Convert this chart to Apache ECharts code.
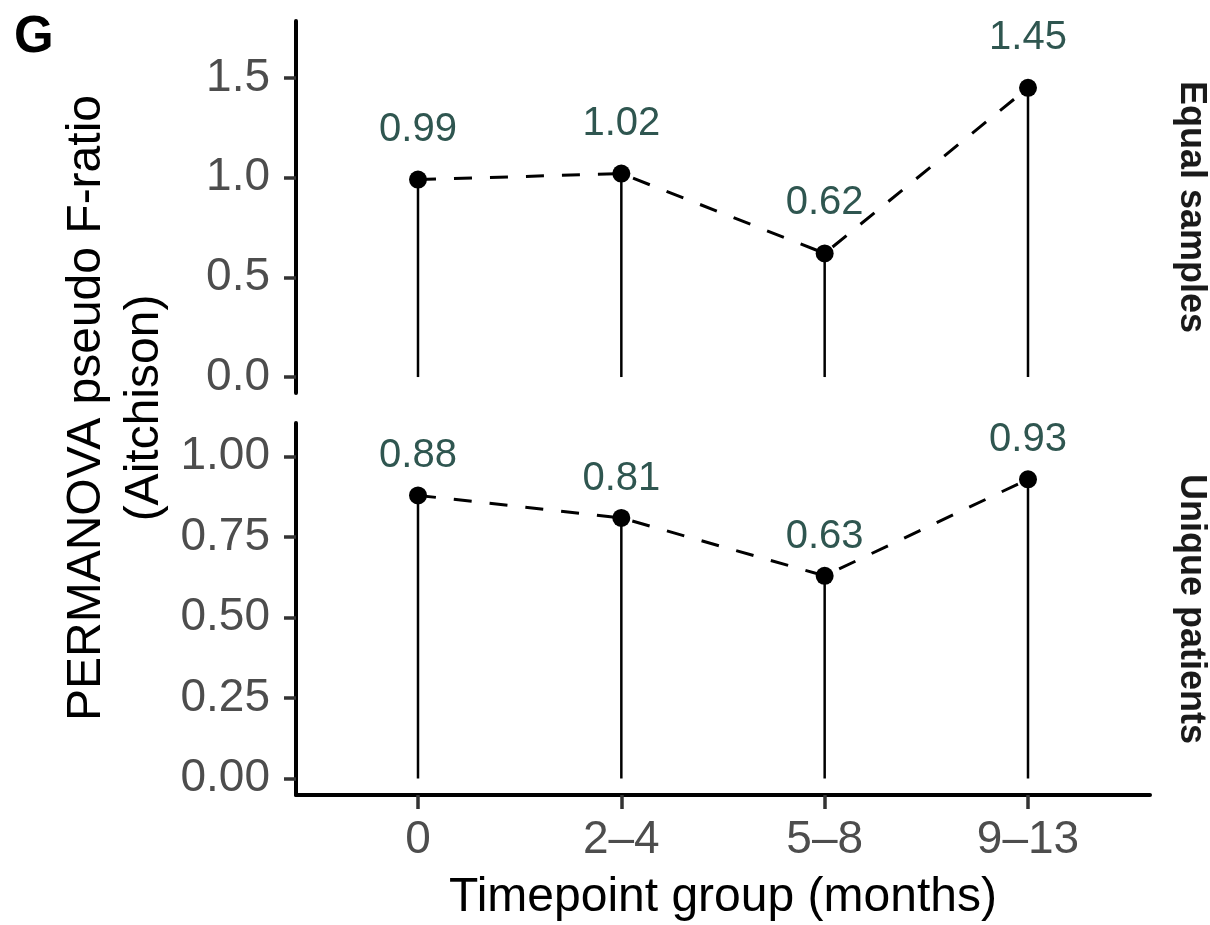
<!DOCTYPE html>
<html>
<head>
<meta charset="utf-8">
<script src="https://cdn.jsdelivr.net/npm/echarts@6/dist/echarts.min.js"></script>
<style>
  html, body { margin: 0; padding: 0; background: #ffffff; }
  #chart { width: 1210px; height: 925px; }
</style>
</head>
<body>
<div id="chart"></div>
<script>
// Timepoint groups on the shared x axis
const timepoints = ['0', '2–4', '5–8', '9–13'];
// PERMANOVA pseudo F-ratio per timepoint group
const equalSamples = [0.99, 1.02, 0.62, 1.45];
const uniquePatients = [0.88, 0.81, 0.63, 0.93];
// Facet strip labels
const panelNames = ['Equal samples', 'Unique patients'];
// Tick values for each panel's y axis
const equalTicks = [0, 0.5, 1.0, 1.5];
const uniqueTicks = [0, 0.25, 0.5, 0.75, 1.0];
const xTicks = [0, 1, 2, 3];

const FONT = "'Liberation Sans', Arial, Helvetica, sans-serif";
const LABEL_COLOR = '#2f5650';

const toPairs = vals => vals.map((v, i) => [i, v]);

function yAxisFor(gridIndex, min, max, ticks, digits) {
  return {
    type: 'value', gridIndex, min, max,
    splitLine: { show: false },
    axisLine: { show: true, onZero: false, lineStyle: { color: '#000', width: 4 } },
    axisTick: { show: true, length: 12, customValues: ticks, lineStyle: { color: '#333', width: 3.5 } },
    axisLabel: {
      customValues: ticks, margin: 26, fontSize: 46, color: '#4d4d4d', fontFamily: FONT,
      formatter: v => Number(v).toFixed(digits)
    }
  };
}

// Lollipop stem from zero up to the value
function stemRender(params, api) {
  const x = api.value(0), y = api.value(1);
  const top = api.coord([x, y]);
  const base = api.coord([x, 0]);
  return {
    type: 'line',
    shape: { x1: top[0], y1: top[1], x2: base[0], y2: base[1] },
    style: { stroke: '#000', lineWidth: 2.5 }
  };
}

function panelSeries(idx, values, labelDistance) {
  const data = toPairs(values);
  return [
    {
      type: 'custom', xAxisIndex: idx, yAxisIndex: idx, data,
      renderItem: stemRender, encode: { x: 0, y: 1 }, silent: true, z: 1
    },
    {
      type: 'line', xAxisIndex: idx, yAxisIndex: idx, data,
      symbol: 'none', silent: true, z: 2,
      lineStyle: { color: '#000', width: 3, type: [18, 18], opacity: 1 }
    },
    {
      type: 'scatter', xAxisIndex: idx, yAxisIndex: idx, data,
      symbolSize: 18, itemStyle: { color: '#000', opacity: 1 }, z: 3, silent: true,
      label: {
        show: true, position: 'top', distance: labelDistance, opacity: 1,
        fontSize: 40, color: LABEL_COLOR, fontFamily: FONT,
        formatter: p => p.value[1].toFixed(2)
      }
    }
  ];
}

const chart = echarts.init(document.getElementById('chart'), null, { renderer: 'canvas' });

chart.setOption({
  backgroundColor: '#ffffff',
  animation: false,
  textStyle: { fontFamily: FONT },
  grid: [
    { left: 296, right: 60, top: 21, height: 372 },
    { left: 296, right: 60, top: 423, height: 372 }
  ],
  xAxis: [
    { type: 'value', gridIndex: 0, min: -0.6, max: 3.6, show: false },
    {
      type: 'value', gridIndex: 1, min: -0.6, max: 3.6,
      splitLine: { show: false },
      axisLine: { show: true, onZero: false, lineStyle: { color: '#000', width: 4 } },
      axisTick: { show: true, length: 14, customValues: xTicks, lineStyle: { color: '#333', width: 3.5 } },
      axisLabel: {
        customValues: xTicks, margin: 22, fontSize: 46, color: '#4d4d4d', fontFamily: FONT,
        formatter: v => timepoints[Math.round(v)]
      }
    }
  ],
  yAxis: [
    yAxisFor(0, -0.08, 1.785, equalTicks, 1),
    yAxisFor(1, -0.0513, 1.105, uniqueTicks, 2)
  ],
  series: [
    ...panelSeries(0, equalSamples, 21),
    ...panelSeries(1, uniquePatients, 10)
  ],
  graphic: [
    {
      type: 'text', x: 14, y: 38,
      style: { text: 'G', fontSize: 51, fontWeight: 'bold', fontFamily: FONT, fill: '#000',
               align: 'left', verticalAlign: 'middle' }
    },
    {
      type: 'text', x: 116, y: 408, rotation: Math.PI / 2,
      style: { text: 'PERMANOVA pseudo F-ratio\n(Aitchison)', fontSize: 48, lineHeight: 58,
               fontFamily: FONT, fill: '#000', align: 'center', verticalAlign: 'middle' }
    },
    {
      type: 'text', x: 723, y: 898,
      style: { text: 'Timepoint group (months)', fontSize: 48, fontFamily: FONT, fill: '#000',
               align: 'center', verticalAlign: 'middle' }
    },
    {
      type: 'text', x: 1191, y: 207, rotation: -Math.PI / 2,
      style: { text: panelNames[0], fontSize: 36, fontWeight: 'bold', fontFamily: FONT, fill: '#1a1a1a',
               align: 'center', verticalAlign: 'middle' }
    },
    {
      type: 'text', x: 1191, y: 609, rotation: -Math.PI / 2,
      style: { text: panelNames[1], fontSize: 36, fontWeight: 'bold', fontFamily: FONT, fill: '#1a1a1a',
               align: 'center', verticalAlign: 'middle' }
    }
  ]
});
</script>
</body>
</html>
